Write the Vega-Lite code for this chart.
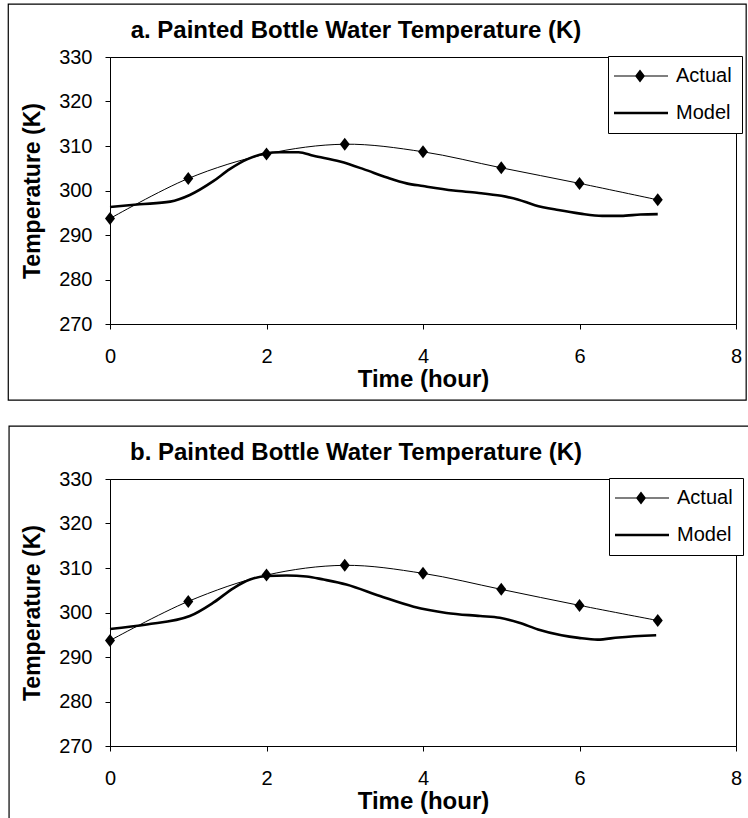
{
  "$schema": "https://vega.github.io/schema/vega-lite/v6.json",
  "padding": {"left": 7, "top": 2, "right": 0, "bottom": 0},
  "bounds": "flush",
  "spacing": 155,
  "background": "white",
  "datasets": {
    "actual": [
      {"panel": "a", "series": "Actual", "time": 0, "temp": 293.7},
      {"panel": "a", "series": "Actual", "time": 1, "temp": 302.7},
      {"panel": "a", "series": "Actual", "time": 2, "temp": 308.2},
      {"panel": "a", "series": "Actual", "time": 3, "temp": 310.4},
      {"panel": "a", "series": "Actual", "time": 4, "temp": 308.7},
      {"panel": "a", "series": "Actual", "time": 5, "temp": 305.1},
      {"panel": "a", "series": "Actual", "time": 6, "temp": 301.6},
      {"panel": "a", "series": "Actual", "time": 7, "temp": 297.9},
      {"panel": "b", "series": "Actual", "time": 0, "temp": 293.7},
      {"panel": "b", "series": "Actual", "time": 1, "temp": 302.5},
      {"panel": "b", "series": "Actual", "time": 2, "temp": 308.4},
      {"panel": "b", "series": "Actual", "time": 3, "temp": 310.6},
      {"panel": "b", "series": "Actual", "time": 4, "temp": 308.8},
      {"panel": "b", "series": "Actual", "time": 5, "temp": 305.2},
      {"panel": "b", "series": "Actual", "time": 6, "temp": 301.6},
      {"panel": "b", "series": "Actual", "time": 7, "temp": 298.2}
    ],
    "model": [
      {"panel": "a", "time": 0, "temp": 296.3},
      {"panel": "a", "time": 0.38, "temp": 296.9},
      {"panel": "a", "time": 0.77, "temp": 297.5},
      {"panel": "a", "time": 1.02, "temp": 299.0},
      {"panel": "a", "time": 1.32, "temp": 302.1},
      {"panel": "a", "time": 1.53, "temp": 304.8},
      {"panel": "a", "time": 1.75, "temp": 307.0},
      {"panel": "a", "time": 1.98, "temp": 308.3},
      {"panel": "a", "time": 2.17, "temp": 308.6},
      {"panel": "a", "time": 2.41, "temp": 308.6},
      {"panel": "a", "time": 2.6, "temp": 307.8},
      {"panel": "a", "time": 2.94, "temp": 306.5},
      {"panel": "a", "time": 3.24, "temp": 304.8},
      {"panel": "a", "time": 3.54, "temp": 302.9},
      {"panel": "a", "time": 3.79, "temp": 301.6},
      {"panel": "a", "time": 4.0, "temp": 301.0},
      {"panel": "a", "time": 4.39, "temp": 300.0},
      {"panel": "a", "time": 4.69, "temp": 299.5},
      {"panel": "a", "time": 5.0, "temp": 298.8},
      {"panel": "a", "time": 5.21, "temp": 298.0},
      {"panel": "a", "time": 5.43, "temp": 296.7},
      {"panel": "a", "time": 5.73, "temp": 295.6},
      {"panel": "a", "time": 6.01, "temp": 294.8},
      {"panel": "a", "time": 6.29, "temp": 294.3},
      {"panel": "a", "time": 6.53, "temp": 294.3},
      {"panel": "a", "time": 6.78, "temp": 294.6},
      {"panel": "a", "time": 7.0, "temp": 294.7},
      {"panel": "b", "time": 0, "temp": 296.3},
      {"panel": "b", "time": 0.47, "temp": 297.3},
      {"panel": "b", "time": 1.02, "temp": 299.2},
      {"panel": "b", "time": 1.32, "temp": 302.2},
      {"panel": "b", "time": 1.58, "temp": 305.5},
      {"panel": "b", "time": 1.79, "temp": 307.4},
      {"panel": "b", "time": 2.0, "temp": 308.2},
      {"panel": "b", "time": 2.26, "temp": 308.3},
      {"panel": "b", "time": 2.51, "temp": 308.1},
      {"panel": "b", "time": 2.73, "temp": 307.4},
      {"panel": "b", "time": 3.02, "temp": 306.3},
      {"panel": "b", "time": 3.45, "temp": 303.7},
      {"panel": "b", "time": 3.88, "temp": 301.3},
      {"panel": "b", "time": 4.3, "temp": 299.9},
      {"panel": "b", "time": 4.73, "temp": 299.2},
      {"panel": "b", "time": 4.98, "temp": 298.8},
      {"panel": "b", "time": 5.23, "temp": 297.7},
      {"panel": "b", "time": 5.47, "temp": 296.2},
      {"panel": "b", "time": 5.77, "temp": 294.9},
      {"panel": "b", "time": 5.99, "temp": 294.3},
      {"panel": "b", "time": 6.23, "temp": 293.9},
      {"panel": "b", "time": 6.5, "temp": 294.4},
      {"panel": "b", "time": 6.98, "temp": 294.9}
    ]
  },
  "config": {
    "font": "Liberation Sans",
    "view": {"stroke": "black", "strokeWidth": 1},
    "axis": {
      "labelFont": "Liberation Sans",
      "labelFontSize": 20,
      "labelColor": "black",
      "titleFont": "Liberation Sans",
      "titleFontWeight": "bold",
      "titleColor": "black",
      "tickColor": "black",
      "tickSize": 5,
      "domainColor": "black",
      "gridColor": "#222222",
      "gridWidth": 1,
      "labelFlush": false,
      "labelOverlap": false
    },
    "legend": {
      "labelFont": "Liberation Sans",
      "labelFontSize": 20,
      "labelColor": "black"
    },
    "title": {
      "font": "Liberation Sans",
      "fontSize": 24,
      "fontWeight": "bold",
      "color": "black",
      "anchor": "middle",
      "frame": "group",
      "dx": -67,
      "offset": -40
    }
  },
  "resolve": {"scale": {"shape": "independent"}, "legend": {"shape": "independent"}},
  "vconcat": [
    {
      "title": "a. Painted Bottle Water Temperature (K)",
      "width": 626,
      "height": 267,
      "layer": [
        {
          "data": {"values": [{}]},
          "mark": {"type": "rect", "filled": false, "stroke": "black", "strokeWidth": 1.2, "clip": false},
          "encoding": {
            "x": {"datum": -1.3, "type": "quantitative", "scale": {"domain": [0, 8], "nice": false}},
            "x2": {"datum": 8.13},
            "y": {"datum": 341.9, "type": "quantitative", "scale": {"domain": [270, 330], "nice": false}},
            "y2": {"datum": 252.9}
          }
        },
        {
          "data": {"name": "model"},
          "transform": [{"filter": "datum.panel === 'a'"}],
          "mark": {"type": "line", "color": "black", "strokeWidth": 2.6, "interpolate": "monotone"},
          "encoding": {
            "x": {"field": "time", "type": "quantitative"},
            "y": {"field": "temp", "type": "quantitative"}
          }
        },
        {
          "data": {"name": "actual"},
          "transform": [{"filter": "datum.panel === 'a'"}],
          "mark": {"type": "line", "color": "black", "strokeWidth": 1, "interpolate": "catmull-rom"},
          "encoding": {
            "x": {"field": "time", "type": "quantitative"},
            "y": {"field": "temp", "type": "quantitative"}
          }
        },
        {
          "data": {"name": "actual"},
          "transform": [{"filter": "datum.panel === 'a'"}],
          "mark": {"type": "point", "filled": true, "color": "black", "size": 100, "opacity": 1, "shape": "M0,-1.3L1,0L0,1.3L-1,0Z"},
          "encoding": {
            "x": {
              "field": "time", "type": "quantitative",
              "scale": {"domain": [0, 8], "nice": false},
              "axis": {"values": [0, 2, 4, 6, 8], "format": "d", "grid": false, "title": "Time (hour)", "titleFontSize": 24, "labelPadding": 17, "titlePadding": 1}
            },
            "y": {
              "field": "temp", "type": "quantitative",
              "scale": {"domain": [270, 330], "nice": false},
              "axis": {"values": [270, 280, 290, 300, 310, 320, 330], "format": "d", "title": "Temperature (K)", "titleFontSize": 23, "labelPadding": 13, "titlePadding": 14}
            }
          }
        },
        {
          "data": {"name": "actual"},
          "transform": [{"filter": "false"}],
          "mark": {"type": "point", "filled": true, "color": "black", "opacity": 1},
          "encoding": {
            "x": {"field": "time", "type": "quantitative"},
            "y": {"field": "temp", "type": "quantitative"},
            "shape": {
              "field": "series", "type": "nominal",
              "scale": {"domain": ["Actual", "Model"], "range": ["M-1.4,-0.05H4V0.05H-1.4ZM1.2,-0.65L1.7,0L1.2,0.65L0.7,0Z", "M-1.4,-0.13H4V0.13H-1.4Z"]},
              "legend": {
                "title": null,
                "orient": "none",
                "legendX": 498,
                "legendY": -1,
                "padding": 10,
                "rowPadding": 17,
                "strokeColor": "black",
                "fillColor": "white",
                "symbolSize": 400,
                "symbolFillColor": "black",
                "symbolStrokeWidth": 0,
                "labelOffset": 38
              }
            }
          }
        }
      ]
    },
    {
      "title": "b. Painted Bottle Water Temperature (K)",
      "width": 626,
      "height": 267,
      "layer": [
        {
          "data": {"values": [{}]},
          "mark": {"type": "rect", "filled": false, "stroke": "black", "strokeWidth": 1.2, "clip": false},
          "encoding": {
            "x": {"datum": -1.29, "type": "quantitative", "scale": {"domain": [0, 8], "nice": false}},
            "x2": {"datum": 8.3},
            "y": {"datum": 341.9, "type": "quantitative", "scale": {"domain": [270, 330], "nice": false}},
            "y2": {"datum": 240}
          }
        },
        {
          "data": {"name": "model"},
          "transform": [{"filter": "datum.panel === 'b'"}],
          "mark": {"type": "line", "color": "black", "strokeWidth": 2.6, "interpolate": "monotone"},
          "encoding": {
            "x": {"field": "time", "type": "quantitative"},
            "y": {"field": "temp", "type": "quantitative"}
          }
        },
        {
          "data": {"name": "actual"},
          "transform": [{"filter": "datum.panel === 'b'"}],
          "mark": {"type": "line", "color": "black", "strokeWidth": 1, "interpolate": "catmull-rom"},
          "encoding": {
            "x": {"field": "time", "type": "quantitative"},
            "y": {"field": "temp", "type": "quantitative"}
          }
        },
        {
          "data": {"name": "actual"},
          "transform": [{"filter": "datum.panel === 'b'"}],
          "mark": {"type": "point", "filled": true, "color": "black", "size": 100, "opacity": 1, "shape": "M0,-1.3L1,0L0,1.3L-1,0Z"},
          "encoding": {
            "x": {
              "field": "time", "type": "quantitative",
              "scale": {"domain": [0, 8], "nice": false},
              "axis": {"values": [0, 2, 4, 6, 8], "format": "d", "grid": false, "title": "Time (hour)", "titleFontSize": 24, "labelPadding": 17, "titlePadding": 1}
            },
            "y": {
              "field": "temp", "type": "quantitative",
              "scale": {"domain": [270, 330], "nice": false},
              "axis": {"values": [270, 280, 290, 300, 310, 320, 330], "format": "d", "title": "Temperature (K)", "titleFontSize": 23, "labelPadding": 13, "titlePadding": 14}
            }
          }
        },
        {
          "data": {"name": "actual"},
          "transform": [{"filter": "false"}],
          "mark": {"type": "point", "filled": true, "color": "black", "opacity": 1},
          "encoding": {
            "x": {"field": "time", "type": "quantitative"},
            "y": {"field": "temp", "type": "quantitative"},
            "shape": {
              "field": "series", "type": "nominal",
              "scale": {"domain": ["Actual", "Model"], "range": ["M-1.4,-0.05H4V0.05H-1.4ZM1.2,-0.65L1.7,0L1.2,0.65L0.7,0Z", "M-1.4,-0.13H4V0.13H-1.4Z"]},
              "legend": {
                "title": null,
                "orient": "none",
                "legendX": 499,
                "legendY": -1,
                "padding": 10,
                "rowPadding": 17,
                "strokeColor": "black",
                "fillColor": "white",
                "symbolSize": 400,
                "symbolFillColor": "black",
                "symbolStrokeWidth": 0,
                "labelOffset": 38
              }
            }
          }
        }
      ]
    }
  ]
}
